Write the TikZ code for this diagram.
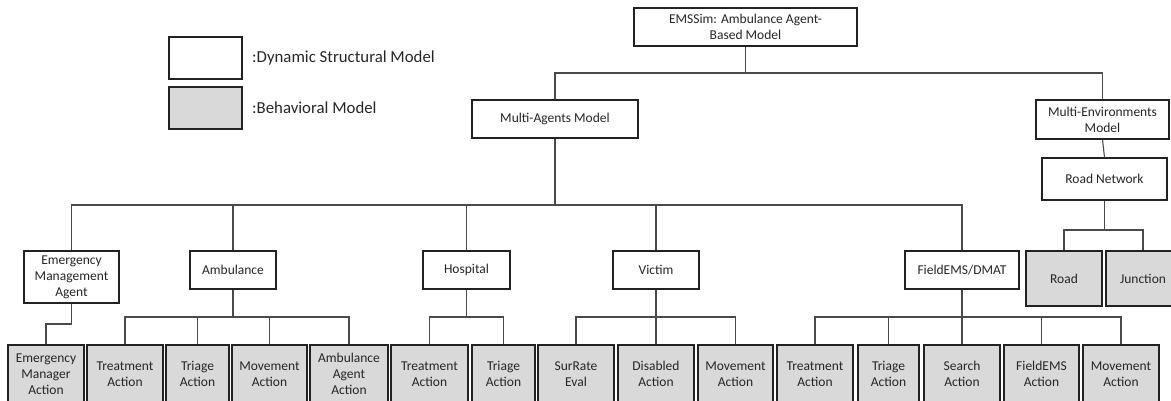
\documentclass[tikz,border=0pt]{standalone}
\usepackage{fontspec}
\setmainfont{Carlito}
\definecolor{behav}{HTML}{D9D9D9}
\definecolor{edge}{HTML}{222222}
\definecolor{wire}{HTML}{4A4A4A}
\definecolor{ink}{HTML}{262626}
\tikzset{
  box/.style={draw=edge, line width=1.5pt, fill=white, inner sep=0pt, align=center,
              text=ink, font=\fontsize{13.5}{16}\selectfont},
  behavbox/.style={box, fill=behav},
  wireline/.style={draw=wire, line width=1.1pt},
  legendtext/.style={anchor=west, inner sep=0pt, text=ink, font=\fontsize{16.8}{20}\selectfont}
}
\begin{document}
\begin{tikzpicture}[x=1pt,y=-1pt]
\useasboundingbox (0,0) rectangle (1171,400);
\clip (0,0) rectangle (1171,400);

% legend
\node[box, minimum width=73, minimum height=42] (legS) at (205.5,58) {};
\node[legendtext] (legSt) at (252,58) {:Dynamic Structural Model};
\node[behavbox, minimum width=73, minimum height=42] (legB) at (205.5,108) {};
\node[legendtext] (legBt) at (252,108) {:Behavioral Model};

% top levels
\node[box, minimum width=223, minimum height=38] (root) at (745.5,27) {EMSSim: Ambulance Agent-\\Based Model};
\node[box, minimum width=166, minimum height=38] (ma) at (555,119) {Multi-Agents Model};
\node[box, minimum width=133, minimum height=39] (me) at (1102.5,119.5) {Multi-Environments\\Model};
\node[box, minimum width=125, minimum height=42] (rn) at (1104.5,179) {Road Network};
\node[behavbox, minimum width=76, minimum height=55] (road) at (1064,278.5) {Road};
\node[behavbox, minimum width=74, minimum height=55] (junc) at (1143,278.5) {Junction};

% agents
\node[box, minimum width=95, minimum height=52] (ema) at (71.5,277) {Emergency\\Management\\Agent};
\node[box, minimum width=86, minimum height=38] (amb) at (233,270) {Ambulance};
\node[box, minimum width=87, minimum height=38] (hosp) at (466.5,270) {Hospital};
\node[box, minimum width=86, minimum height=38] (vic) at (656,270) {Victim};
\node[box, minimum width=114, minimum height=38] (fed) at (962,270) {FieldEMS/DMAT};

% behavioural leaves
\tikzset{leaf/.style={behavbox, minimum height=58}}
\node[leaf, minimum width=76] (b1) at (46,374) {Emergency\\Manager\\Action};
\node[leaf, minimum width=76] (b2) at (125,374) {Treatment\\Action};
\node[leaf, minimum width=63] (b3) at (197.5,374) {Triage\\Action};
\node[leaf, minimum width=75] (b4) at (269.5,374) {Movement\\Action};
\node[leaf, minimum width=78] (b5) at (349,374) {Ambulance\\Agent\\Action};
\node[leaf, minimum width=77] (b6) at (429.5,374) {Treatment\\Action};
\node[leaf, minimum width=63] (b7) at (503.5,374) {Triage\\Action};
\node[leaf, minimum width=76] (b8) at (576,374) {SurRate\\Eval};
\node[leaf, minimum width=76] (b9) at (656,374) {Disabled\\Action};
\node[leaf, minimum width=75] (b10) at (735.5,374) {Movement\\Action};
\node[leaf, minimum width=76] (b11) at (815,374) {Treatment\\Action};
\node[leaf, minimum width=61] (b12) at (888.5,374) {Triage\\Action};
\node[leaf, minimum width=76] (b13) at (962,374) {Search\\Action};
\node[leaf, minimum width=75] (b14) at (1041.5,374) {FieldEMS\\Action};
\node[leaf, minimum width=76] (b15) at (1121,374) {Movement\\Action};

% connectors
\foreach \c in {ma,me}
  \draw[wireline] (root.south) -- (root.south |- 0,73) -| (\c.north);
\draw[wireline] (me.south) -- (rn.north);
\foreach \c in {road,junc}
  \draw[wireline] (rn.south) -- (rn.south |- 0,230) -| (\c.north);
\foreach \c in {ema,amb,hosp,vic,fed}
  \draw[wireline] (ma.south) -- (ma.south |- 0,205) -| (\c.north);
\draw[wireline] (ema.south) -- (ema.south |- 0,324) -| (b1.north);
\foreach \c in {b2,b3,b4,b5}
  \draw[wireline] (amb.south) -- (amb.south |- 0,317) -| (\c.north);
\foreach \c in {b6,b7}
  \draw[wireline] (hosp.south) -- (hosp.south |- 0,317) -| (\c.north);
\foreach \c in {b8,b9,b10}
  \draw[wireline] (vic.south) -- (vic.south |- 0,317) -| (\c.north);
\foreach \c in {b11,b12,b13,b14,b15}
  \draw[wireline] (fed.south) -- (fed.south |- 0,317) -| (\c.north);
\end{tikzpicture}
\end{document}
